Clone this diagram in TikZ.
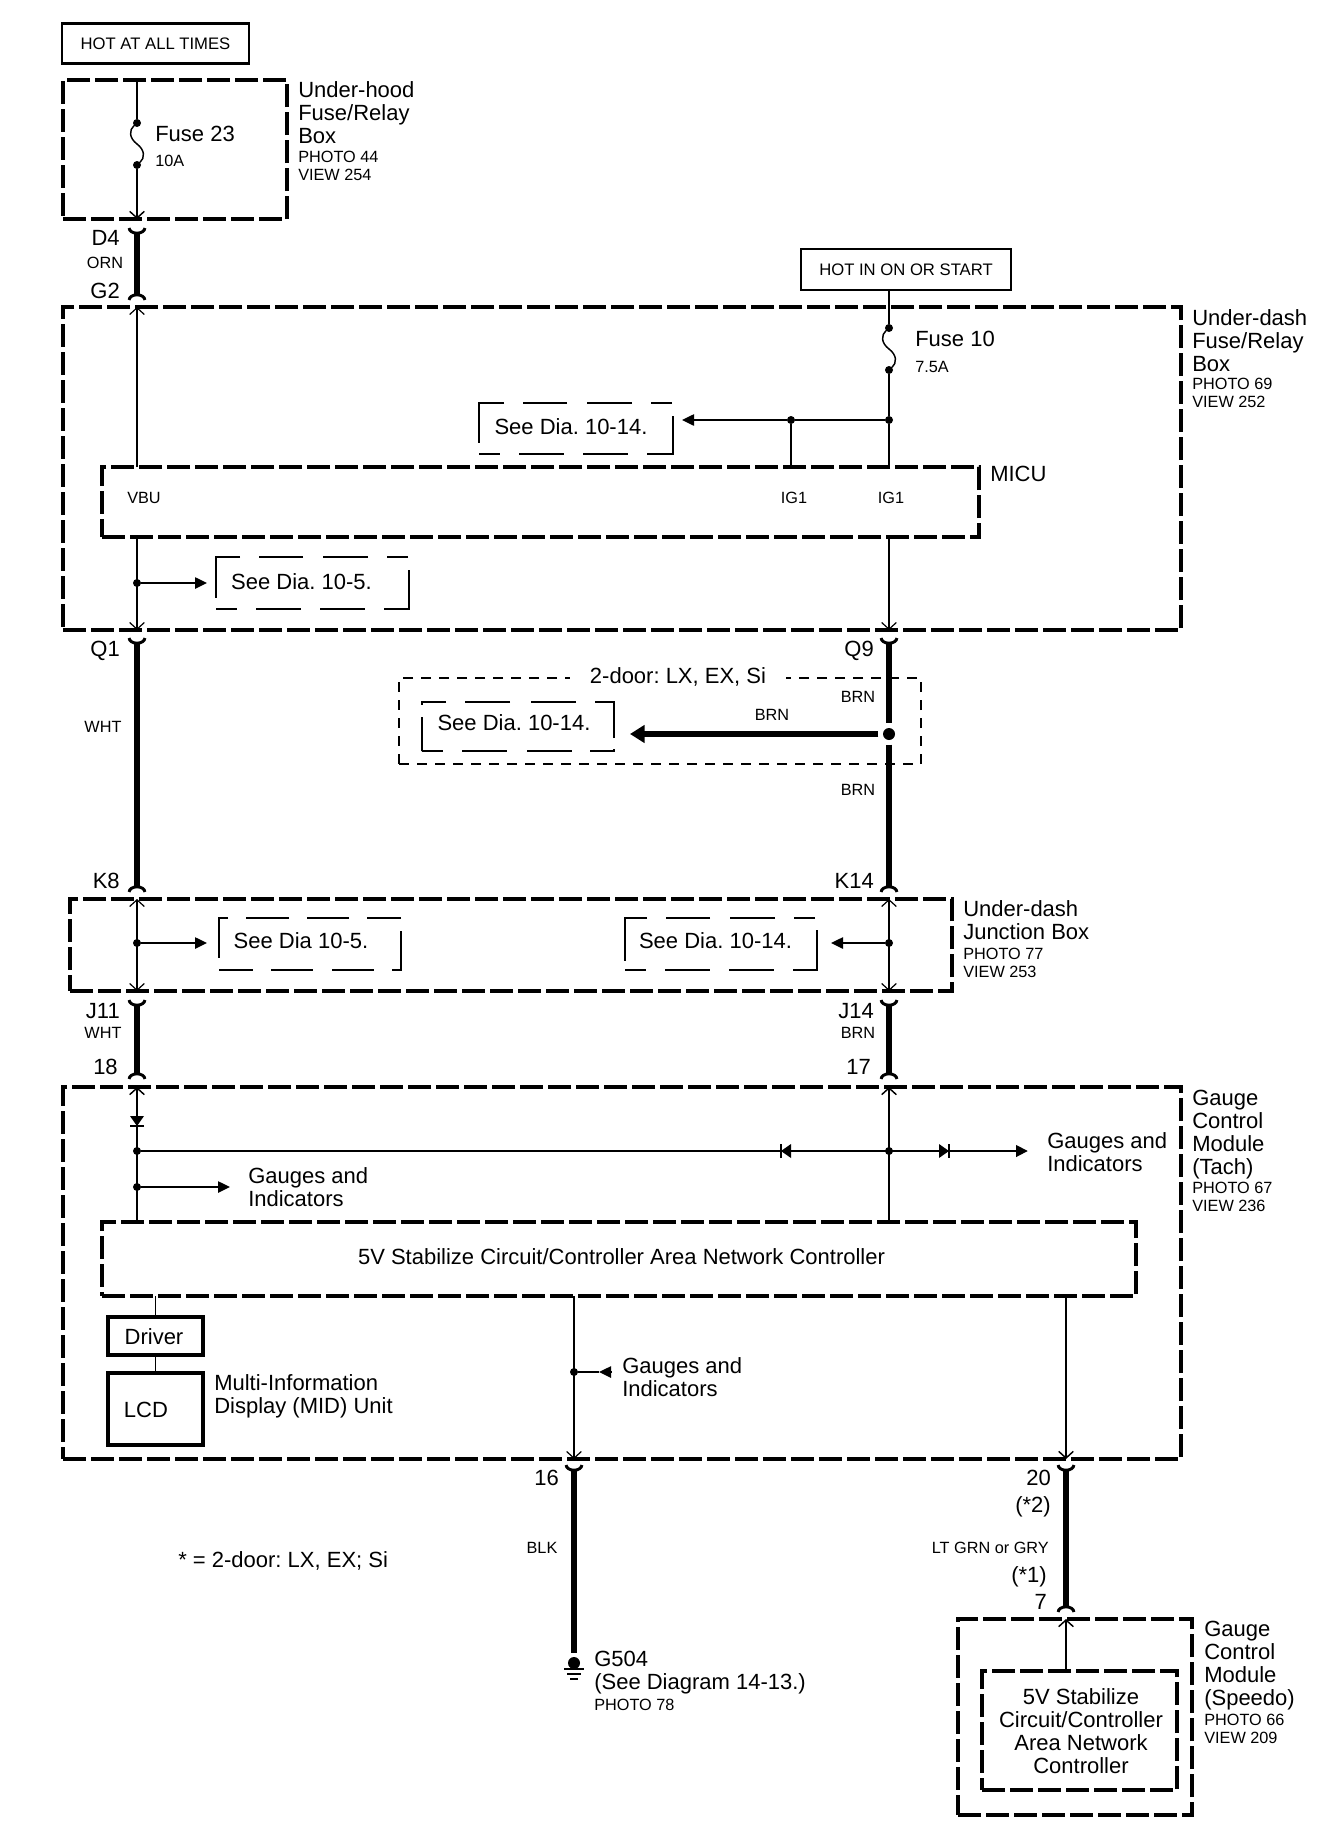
\documentclass[tikz,border=0pt]{standalone}
\usepackage{fontspec}
\setmainfont{Liberation Sans}
\usetikzlibrary{shapes,arrows.meta,calc}
\frenchspacing
\tikzstyle{biglabel} = [font=\fontsize{16.5}{17.25}\selectfont, inner sep=0, align=left]
\tikzstyle{smalllabel} = [font=\fontsize{12.2}{13.6}\selectfont, inner sep=0, align=left]
\tikzstyle{namebox} = [biglabel, anchor=north west]
\tikzstyle{photobox} = [smalllabel, anchor=north west]
\tikzstyle{pinlabel} = [biglabel, anchor=east]
\tikzstyle{wirecolor} = [smalllabel]
\tikzstyle{hotbox} = [draw, line width=1.9pt, inner sep=0, font=\fontsize{12.5}{14}\selectfont, align=center]
\tikzstyle{unitbox} = [draw, line width=2.6pt, dash pattern=on 17.25pt off 3.75pt, inner sep=0, outer sep=0, biglabel, align=center]
\tikzstyle{seebox} = [draw, line width=1.1pt, inner sep=0, outer sep=0, dash pattern=on 15.75pt off 14.25pt on 33.75pt off 14.25pt on 33.75pt off 14.25pt on 48pt off 10.5pt on 15.75pt off 14.25pt on 33.75pt off 15pt on 33pt off 14.25pt on 48.75pt off 9.75pt]
\tikzstyle{seeboxlow} = [seebox, dash pattern=on 15.75pt off 14.25pt on 33.75pt off 15pt on 33.75pt off 13.5pt on 19.5pt off 8.25pt on 41.25pt off 14.25pt on 33.75pt off 15.75pt on 33.75pt off 14.25pt on 20.25pt off 9pt on 25.5pt off 0pt]
\tikzstyle{seeboxshort} = [seebox, dash pattern=on 25.5pt off 13.5pt on 31.5pt off 14.25pt on 31.5pt off 13.5pt on 36pt off 9.75pt on 25.5pt off 13.5pt on 31.5pt off 13.5pt on 32.25pt off 13.5pt on 36.75pt off 9.75pt]
\tikzstyle{optbox} = [draw, line width=0.9pt, dash pattern=on 7.5pt off 6pt, inner sep=0, outer sep=0]
\tikzstyle{partbox} = [draw, line width=2.4pt, inner sep=0, outer sep=0, biglabel, align=center]
\tikzstyle{wire} = [line width=1.1pt]
\tikzstyle{finewire} = [line width=0.9pt]
\tikzstyle{feed} = [line width=2.2pt]
\tikzstyle{harness} = [line width=4.9pt, {Arc Barb[reversed,length=5pt,width=14pt,line width=2.2pt]}-{Arc Barb[reversed,length=5pt,width=14pt,line width=2.2pt]}]
\tikzstyle{harnesstop} = [line width=4.9pt, {Arc Barb[reversed,length=5pt,width=14pt,line width=2.2pt]}-]
\tikzstyle{harnessend} = [line width=4.9pt, -{Arc Barb[reversed,length=5pt,width=14pt,line width=2.2pt]}]
\tikzstyle{branch} = [line width=1.1pt, -{Triangle[length=9pt,width=8.5pt]}]
\tikzstyle{dot} = [circle, fill, inner sep=0, outer sep=0, minimum size=6pt]
\tikzset{
	size/.style 2 args={minimum width=#1*0.75pt,minimum height=#2*0.75pt},
	diode/.pic={
		\fill (0,0) -- (-10,-7) -- (-10,7) -- cycle;
		\draw[line width=0.9pt] (0,-7) -- (0,7);
	},
}

\begin{document}
\begin{tikzpicture}[x=0.75pt,y=-0.75pt,>={Straight Barb[length=5pt,width=11pt]}]
	\useasboundingbox (0,0) rectangle (1344,1834);

	% put the boxes where we want them
	\node [hotbox,size={187}{40}] (hotall) at (155.5,43.5) {HOT AT ALL TIMES};
	\node [hotbox,size={210}{41}] (hotign) at (906,269.5) {HOT IN ON OR START};
	\node [unitbox,size={224}{139}] (hood) at (175,149.5) {};
	\node [unitbox,size={1118}{323}] (dash) at (622,468.5) {};
	\node [unitbox,size={877}{70}] (micu) at (540.5,502) {};
	\node [unitbox,size={882}{92}] (junc) at (511,945) {};
	\node [unitbox,size={1118}{372}] (tach) at (622,1273) {};
	\node [unitbox,size={1034}{74}] (ctrl) at (619,1259) {};
	\node [unitbox,size={234}{196}] (speedo) at (1075,1717) {};
	\node [unitbox,size={195}{119}] (speedoctrl) at (1079.5,1730.5) {};
	\node [partbox,size={95}{38}] (driver) at (155.5,1336) {};
	\node [partbox,size={95}{72}] (lcd) at (155.5,1409) {};
	\node [optbox,size={522}{86}] (opt) at (660,721) {};
	\node [biglabel,fill=white,inner xsep=15pt,inner ysep=4pt] (optname) at (678,677) {2-door: LX, EX, Si};
	\node [seebox,size={194}{51}] (see1) at (576,428.5) {};
	\node [seebox,size={193}{52}] (see2) at (312.5,583) {};
	\node [seeboxlow,size={192}{49}] (see3) at (518,726.5) {};
	\node [seeboxshort,size={182}{52}] (see4) at (310,944) {};
	\node [seebox,size={192}{52}] (see5) at (721,944) {};

	% text in the boxes
	\node [biglabel] (ctrlname) at (621.5,1256.5) {5V Stabilize Circuit/Controller Area Network Controller};
	\node [biglabel,align=center] (speedoname) at (1081,1731.5) {5V Stabilize\\Circuit/Controller\\Area Network\\Controller};
	\node [biglabel] (drivername) at (154,1337) {Driver};
	\node [biglabel] (lcdname) at (146,1410) {LCD};
	\node [biglabel] (see1t) at (571,427) {See Dia. 10-14.};
	\node [biglabel] (see2t) at (301.5,582) {See Dia. 10-5.};
	\node [biglabel] (see3t) at (514,723) {See Dia. 10-14.};
	\node [biglabel] (see4t) at (301,941) {See Dia 10-5.};
	\node [biglabel] (see5t) at (715.5,941) {See Dia. 10-14.};

	% splices
	\node [dot] (f23a) at (137,123) {};
	\node [dot] (f23b) at (137,165) {};
	\node [dot] (f10a) at (889,328) {};
	\node [dot] (f10b) at (889,370) {};
	\node [dot] (s1) at (889,420) {};
	\node [dot] (s2) at (791,420) {};
	\node [dot] (s3) at (137,583) {};
	\node [dot,minimum size=9pt,outer sep=3.5pt] (s4) at (889,734) {};
	\node [dot] (s5) at (137,943) {};
	\node [dot] (s6) at (889,943) {};
	\node [dot] (s7) at (137,1151) {};
	\node [dot] (s8) at (889,1151) {};
	\node [dot] (s9) at (137,1187) {};
	\node [dot] (s10) at (574,1372) {};
	\node [dot,minimum size=9pt] (g504) at (574,1663) {};

	% free ends of the branches
	\coordinate (t1) at (682,420);
	\coordinate (t2) at (207,583);
	\coordinate (t3) at (630,734);
	\coordinate (t4) at (207,943);
	\coordinate (t5) at (831,943);
	\coordinate (t6) at (1028,1151);
	\coordinate (t7) at (230,1187);
	\coordinate (t8) at (611,1372);
	\coordinate (t9) at (599,1372);
	\coordinate (r20) at (1066,1300);
	\coordinate (diodea) at (137,1126);

	% draw the fuses
	\draw [wire] (f23a) .. controls +(-8,7) and +(-8,-6) .. ($(f23a)!.5!(f23b)$) .. controls +(8,6) and +(8,-7) .. (f23b);
	\draw [wire] (f10a) .. controls +(-8,7) and +(-8,-6) .. ($(f10a)!.5!(f10b)$) .. controls +(8,6) and +(8,-7) .. (f10b);

	% draw the thin wires
	\draw [wire] (hood.north -| f23a) -- (f23a);
	\draw [wire,->] (f23b) -- (hood.south -| f23b);
	\draw [finewire,->] (micu.north -| f23a) -- (dash.north -| f23a);
	\draw [finewire,->] (micu.south -| s3) -- (dash.south -| s3);
	\draw [wire] (hotign.south -| f10a) -- (f10a);
	\draw [wire] (f10b) -- (s1);
	\draw [wire] (s1) -- (micu.north -| s1);
	\draw [wire] (s2) -- (micu.north -| s2);
	\draw [wire] (s1) -- (s2);
	\draw [branch] (s2) -- (t1);
	\draw [branch] (s3) -- (t2);
	\draw [finewire,->] (micu.south -| s1) -- (dash.south -| s1);
	\draw [finewire,<->] (junc.north -| s5) -- (junc.south -| s5);
	\draw [finewire,<->] (junc.north -| s6) -- (junc.south -| s6);
	\draw [branch] (s5) -- (t4);
	\draw [branch] (s6) -- (t5);
	\draw [wire,<-] (tach.north -| s7) -- (ctrl.north -| s7);
	\draw [wire,<-] (tach.north -| s8) -- (ctrl.north -| s8);
	\draw [branch] (s9) -- (t7);
	\draw [wire] (ctrl.south -| driver) -- (driver);
	\draw [wire] (driver) -- (lcd);
	\draw [finewire,->] (ctrl.south -| s10) -- (tach.south -| s10);
	\draw [wire,->] (ctrl.south -| r20) -- (tach.south -| r20);
	\draw [branch] (t8) -- (t9);
	\draw [wire] (t9) -- (s10);
	\draw [wire,<-] (speedo.north -| r20) -- (speedoctrl.north -| r20);

	% the feed to the gauges, with its diodes
	\draw [feed,-{Triangle[length=9pt,width=8.5pt]}] (s7) -- (t6);
	\path (diodea) pic [rotate=-90] {diode};
	\path (781,1151) pic [rotate=180] {diode};
	\path (949,1151) pic {diode};

	% draw the harness wires
	\draw [harness] (137,228) -- (137,300);
	\draw [harness] (137,638) -- (137,892);
	\draw [harnesstop] (889,638) -- (s4);
	\draw [harnessend] (s4) -- (889,892);
	\draw [line width=4pt,-{Triangle[length=11pt,width=13pt]}] (s4) -- (t3);
	\draw [harness] (137,1000) -- (137,1079);
	\draw [harness] (889,1000) -- (889,1079);
	\draw [harnesstop] (574,1465) -- (574,1653);
	\draw [harness] (1066,1465) -- (1066,1612);

	% ground
	\draw [line width=1.3pt] (564,1669) -- (584,1669);
	\draw [line width=1.3pt] (567,1674) -- (581,1674);
	\draw [line width=1.3pt] (570,1679) -- (578,1679);

	% box names
	\node [namebox] (n1) at (298,81) {Under-hood\\Fuse/Relay\\Box};
	\node [photobox] (n1p) at (298,151) {PHOTO 44\\VIEW 254};
	\node [namebox] (n2) at (1192,309.5) {Under-dash\\Fuse/Relay\\Box};
	\node [photobox] (n2p) at (1192,378) {PHOTO 69\\VIEW 252};
	\node [namebox] (n3) at (990,466) {MICU};
	\node [namebox] (n4) at (963,900) {Under-dash\\Junction Box};
	\node [photobox] (n4p) at (963,948) {PHOTO 77\\VIEW 253};
	\node [namebox] (n5) at (1192,1089.5) {Gauge\\Control\\Module\\(Tach)};
	\node [photobox] (n5p) at (1192,1182) {PHOTO 67\\VIEW 236};
	\node [namebox] (n6) at (1204,1621) {Gauge\\Control\\Module\\(Speedo)};
	\node [photobox] (n6p) at (1204,1714) {PHOTO 66\\VIEW 209};
	\node [namebox] (n7) at (214,1374) {Multi-Information\\Display (MID) Unit};
	\node [namebox] (n8) at (594,1651) {G504\\(See Diagram 14-13.)};
	\node [photobox] (n8p) at (594,1699) {PHOTO 78};
	\node [namebox] (g1) at (248,1167) {Gauges and\\Indicators};
	\node [namebox] (g2) at (1047,1132.5) {Gauges and\\Indicators};
	\node [namebox] (g3) at (622,1357) {Gauges and\\Indicators};

	% fuse labels
	\node [namebox] (f23) at (155,126) {Fuse 23};
	\node [photobox] (f23r) at (155,155) {10A};
	\node [namebox] (f10) at (915,331) {Fuse 10};
	\node [photobox] (f10r) at (915,361) {7.5A};

	% pin labels
	\node [photobox,anchor=center] (p1) at (144,498) {VBU};
	\node [photobox,anchor=center] (p2) at (794,498) {IG1};
	\node [photobox,anchor=center] (p3) at (891,498) {IG1};
	\node [pinlabel] (d4) at (120,238) {D4};
	\node [pinlabel] (g2) at (120,291) {G2};
	\node [pinlabel] (q1) at (120,650.5) {Q1};
	\node [pinlabel] (q9) at (874,650.5) {Q9};
	\node [pinlabel] (k8) at (120,881) {K8};
	\node [pinlabel] (k14) at (874,881) {K14};
	\node [pinlabel] (j11) at (120,1011) {J11};
	\node [pinlabel] (j14) at (874,1011) {J14};
	\node [pinlabel] (c18) at (118,1067) {18};
	\node [pinlabel] (c17) at (871,1067) {17};
	\node [pinlabel] (c16) at (559,1478) {16};
	\node [pinlabel] (c20) at (1051,1478) {20};
	\node [pinlabel] (c2) at (1051,1507) {(*2)};
	\node [pinlabel] (c1) at (1047,1577) {(*1)};
	\node [pinlabel] (c7) at (1047,1602) {7};

	% wire colors
	\node [wirecolor] (w1) at (105,263) {ORN};
	\node [wirecolor] (w2) at (103,727) {WHT};
	\node [wirecolor] (w3) at (858,697) {BRN};
	\node [wirecolor] (w4) at (772,715) {BRN};
	\node [wirecolor] (w5) at (858,790) {BRN};
	\node [wirecolor] (w6) at (103,1033) {WHT};
	\node [wirecolor] (w7) at (858,1033) {BRN};
	\node [wirecolor] (w8) at (542,1548) {BLK};
	\node [wirecolor,anchor=east] (w9) at (1049,1548) {LT GRN or GRY};

	% the note
	\node [namebox,anchor=west] (note) at (178,1561) {* = 2-door: LX, EX; Si};
\end{tikzpicture}
\end{document}
